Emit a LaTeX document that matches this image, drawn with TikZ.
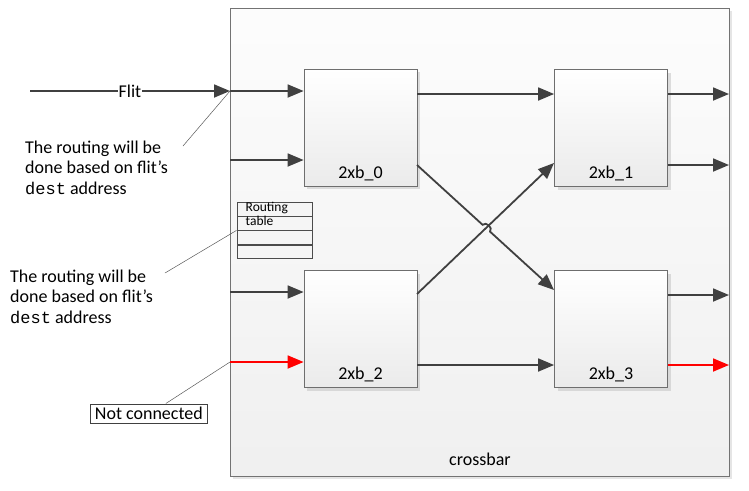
\documentclass[tikz,border=0pt]{standalone}
\usepackage{fontspec}
\setmainfont{Carlito}
\newfontfamily\monof{Liberation Mono}
\usetikzlibrary{arrows.meta,shadows,calc}
\definecolor{lnc}{HTML}{404040}
\definecolor{bdc}{HTML}{6E6E6E}
\tikzset{
  arr/.style={draw=lnc,line width=1.8pt,-{Triangle[length=16pt,width=13pt]}},
  redarr/.style={draw=red,line width=1.8pt,-{Triangle[length=16pt,width=13pt]}},
  xbox/.style={draw=bdc,line width=0.8pt,top color=white,bottom color=black!8,
    minimum width=113pt,minimum height=117pt,inner sep=0pt,
    drop shadow={shadow xshift=3pt,shadow yshift=-3pt,fill=black!25,opacity=0.5}},
  bigtxt/.style={font=\fontsize{18}{20}\selectfont,inner sep=0pt},
  xlab/.style={bigtxt,anchor=base},
  callout/.style={draw=black!65,line width=0.5pt},
  note/.style={bigtxt,anchor=base west},
  rt/.style={draw=black!70,line width=0.7pt,fill=black!4,minimum width=75pt,minimum height=13.5pt,inner sep=0pt}
}
\begin{document}
\begin{tikzpicture}[x=1pt,y=-1pt]
\useasboundingbox (0,0) rectangle (749,490);
% crossbar
\node[draw=black!55,line width=0.8pt,top color=black!1,bottom color=black!6,
  minimum width=499pt,minimum height=468pt,inner sep=0pt,anchor=north west,
  drop shadow={shadow xshift=3pt,shadow yshift=-3pt,fill=black!20,opacity=0.5}] (cb) at (230,8) {};
\node[bigtxt,anchor=base] (cblab) at (480,465) {crossbar};
% boxes
\node[xbox] (b0) at (360.5,127.5) {};
\node[xbox] (b1) at (611,128) {};
\node[xbox] (b2) at (360.5,329) {};
\node[xbox] (b3) at (611,329) {};
\node[xlab] (l0) at ($(b0.south)+(0,-8)$) {2xb\_0};
\node[xlab] (l1) at ($(b1.south)+(0,-8)$) {2xb\_1};
\node[xlab] (l2) at ($(b2.south)+(0,-8)$) {2xb\_2};
\node[xlab] (l3) at ($(b3.south)+(0,-8)$) {2xb\_3};
% inputs
\coordinate (fs) at (30,91);
\coordinate (i0) at (230,91);
\coordinate (i1) at (230,160);
\coordinate (i2) at (230,292);
\coordinate (i3) at (230,362);
\draw[arr] (fs) -- node[fill=white,inner sep=1pt,font=\fontsize{18}{20}\selectfont] (flit) {Flit} (i0);
\draw[arr] (i0) -- (i0 -| b0.west);
\draw[arr] (i1) -- (i1 -| b0.west);
\draw[arr] (i2) -- (i2 -| b2.west);
\draw[redarr] (i3) -- (i3 -| b2.west);
% internal
\coordinate (o0) at (417,94);
\draw[arr] (o0) -- (o0 -| b1.west);
\coordinate (o2) at (417,365);
\draw[arr] (o2) -- (o2 -| b3.west);
% cross lines
\coordinate (aS) at (417,165);
\coordinate (aE) at (554,290);
\coordinate (bS) at (417,294);
\coordinate (bE) at (554,163);
\draw[arr] (bS) -- (bE);
\coordinate (P) at (486.3,228.2);
\coordinate (h1) at ($(P)+(-3.7,-3.4)$);
\coordinate (h2) at ($(P)+(3.7,3.4)$);
\draw[arr] (aS) -- (h1) .. controls ($(h1)+(3.4,-3.7)$) and ($(h2)+(3.4,-3.7)$) .. (h2) -- (aE);
% outputs
\coordinate (r0) at (729,94);
\coordinate (r1) at (729,165);
\coordinate (r2) at (729,295);
\coordinate (r3) at (729,365);
\draw[arr] (r0 -| b1.east) -- (r0);
\draw[arr] (r1 -| b1.east) -- (r1);
\draw[arr] (r2 -| b3.east) -- (r2);
\draw[redarr] (r3 -| b3.east) -- (r3);
% routing table
\node[rt,anchor=north west] (t1) at (236.5,202) {};
\node[rt,anchor=north] (t2) at (t1.south) {};
\node[rt,anchor=north] (t3) at (t2.south) {};
\node[rt,anchor=north] (t4) at (t3.south) {};
\node[font=\fontsize{13.5}{14}\selectfont,anchor=west,inner sep=0pt] (rtx1) at ($(t1.west)+(9,-1)$) {Routing};
\node[font=\fontsize{13.5}{14}\selectfont,anchor=west,inner sep=0pt] (rtx2) at ($(t2.west)+(9,-2)$) {table};
% notes
\node[note] (n1a) at (25,153) {The routing will be};
\node[note] (n1b) at (25,173.5) {done based on flit’s};
\node[note] (n1c) at (25,194) {{\monof\fontsize{17}{20}\selectfont dest} address};
\node[note] (n2a) at (10,282) {The routing will be};
\node[note] (n2b) at (10,302.5) {done based on flit’s};
\node[note] (n2c) at (10,323) {{\monof\fontsize{17}{20}\selectfont dest} address};
\coordinate (c1) at (183,146);
\coordinate (c2) at (165,273);
\draw[callout] (c1) -- (i0);
\draw[callout] (c2) -- (t2.south west);
\node[draw=black!75,line width=0.7pt,fill=white,inner sep=0pt,minimum width=117pt,minimum height=19.5pt,
  font=\fontsize{18}{20}\selectfont,anchor=north west] (nc) at (90,403.5) {Not connected};
\draw[callout] (nc.north) ++(17,0) coordinate (c3) -- (i3);
\end{tikzpicture}
\end{document}
